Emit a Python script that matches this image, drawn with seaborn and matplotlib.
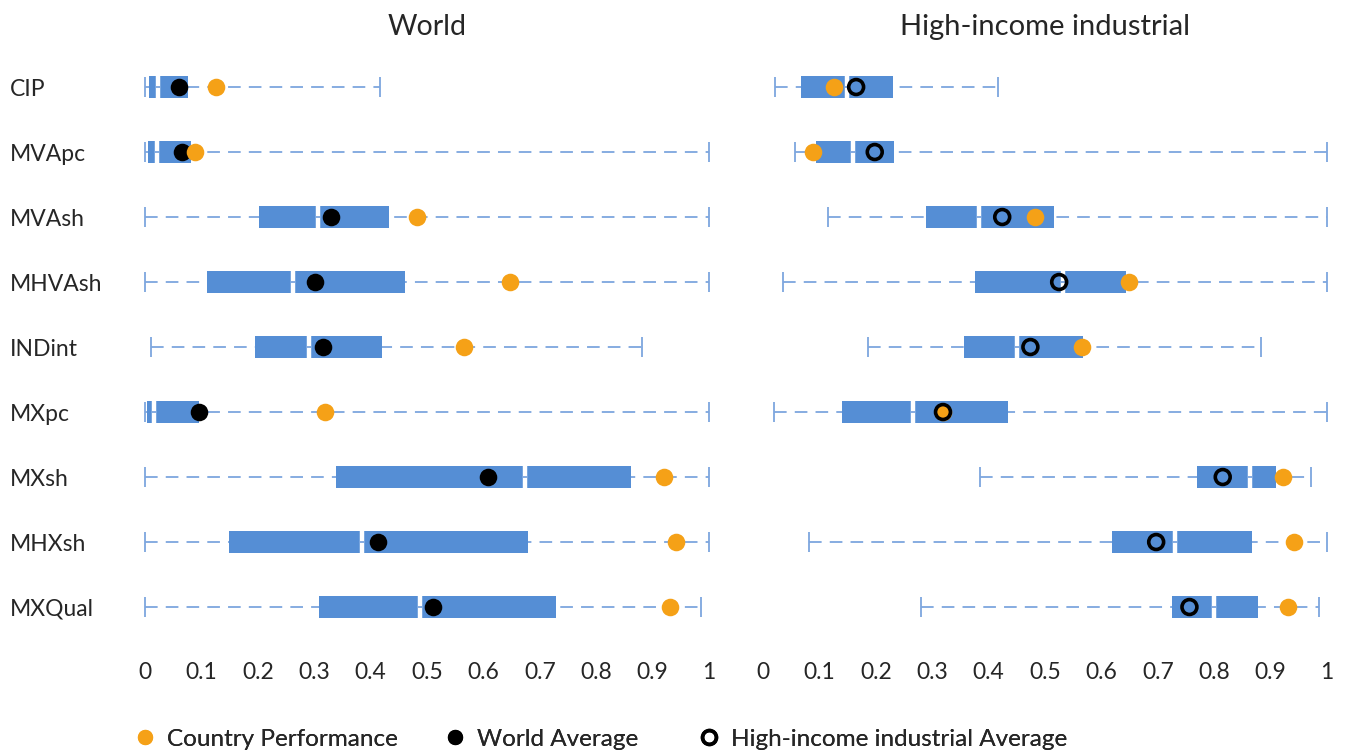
import numpy as np
import matplotlib
matplotlib.use("Agg")
import matplotlib.pyplot as plt
from matplotlib.lines import Line2D
import seaborn as sns

categories = ["CIP", "MVApc", "MVAsh", "MHVAsh", "INDint", "MXpc", "MXsh", "MHXsh", "MXQual"]

# country performance (same in both panels)
country = [0.126, 0.088, 0.482, 0.648, 0.565, 0.319, 0.921, 0.942, 0.931]

# World distribution
w_min = [0.0, 0.0, 0.0, 0.0, 0.011, 0.0, 0.0, 0.0, 0.0]
w_q1 = [0.007, 0.005, 0.202, 0.110, 0.195, 0.003, 0.339, 0.149, 0.309]
w_med = [0.023, 0.021, 0.307, 0.262, 0.290, 0.016, 0.673, 0.384, 0.488]
w_q3 = [0.076, 0.082, 0.432, 0.461, 0.421, 0.096, 0.862, 0.680, 0.729]
w_max = [0.417, 1.0, 1.0, 1.0, 0.881, 1.0, 1.0, 1.0, 0.985]
world_avg = [0.061, 0.065, 0.329, 0.301, 0.315, 0.095, 0.608, 0.413, 0.511]

# High-income industrial distribution
h_min = [0.022, 0.056, 0.116, 0.036, 0.186, 0.020, 0.384, 0.081, 0.280]
h_q1 = [0.067, 0.094, 0.289, 0.375, 0.357, 0.140, 0.769, 0.619, 0.725]
h_med = [0.148, 0.159, 0.383, 0.532, 0.450, 0.266, 0.864, 0.730, 0.799]
h_q3 = [0.231, 0.233, 0.515, 0.643, 0.567, 0.434, 0.909, 0.867, 0.877]
h_max = [0.416, 1.0, 1.0, 1.0, 0.882, 1.0, 0.972, 1.0, 0.986]
hi_avg = [0.165, 0.198, 0.424, 0.525, 0.474, 0.319, 0.815, 0.697, 0.756]

xticks = [0, 0.1, 0.2, 0.3, 0.4, 0.5, 0.6, 0.7, 0.8, 0.9, 1]
xticklabels = ["0", "0.1", "0.2", "0.3", "0.4", "0.5", "0.6", "0.7", "0.8", "0.9", "1"]

BOX = "#558ED5"
WHISK = "#7DA6DE"
ORANGE = "#F5A117"

sns.set_theme(style="white")
plt.rcParams["font.family"] = ["Lato", "DejaVu Sans"]


def draw_panel(ax, mins, q1, med, q3, maxs):
    y = np.arange(len(categories))
    ax.hlines(y, mins, maxs, color=WHISK, lw=1.3, linestyles=(0, (7, 4.5)), zorder=1)
    ax.vlines(mins, y - 0.15, y + 0.15, color=WHISK, lw=1.3, zorder=1)
    ax.vlines(maxs, y - 0.15, y + 0.15, color=WHISK, lw=1.3, zorder=1)
    ax.barh(y, np.array(q3) - np.array(q1), left=q1, height=0.34, color=BOX, lw=0, zorder=2)
    ax.vlines(med, y - 0.18, y + 0.18, color="white", lw=3.2, zorder=3)
    ax.hlines(y, np.array(med) - 0.004, np.array(med) + 0.004, color=WHISK, lw=1.3, zorder=4)
    ax.set_xlim(-0.03, 1.03)
    ax.set_ylim(len(categories) - 0.5, -0.5)
    ax.set_xticks(xticks)
    ax.set_xticklabels(xticklabels, fontsize=16.5)
    ax.tick_params(axis="x", length=0, pad=16)
    sns.despine(ax=ax, left=True, bottom=True)


fig = plt.figure(figsize=(13.51, 7.53), dpi=100)
ax1 = fig.add_axes([0.0948, 0.1507, 0.4425, 0.7769])
ax2 = fig.add_axes([0.5523, 0.1507, 0.4425, 0.7769])
ypos = np.arange(len(categories))

draw_panel(ax1, w_min, w_q1, w_med, w_q3, w_max)
sns.scatterplot(x=world_avg, y=ypos, ax=ax1, color="black", s=160, linewidth=0, zorder=5)
sns.scatterplot(x=country, y=ypos, ax=ax1, color=ORANGE, s=160, linewidth=0, zorder=6)
ax1.set_yticks(ypos)
ax1.set_yticklabels(categories, fontsize=16.5)
ax1.tick_params(axis="y", length=0, pad=85)
for t in ax1.get_yticklabels():
    t.set_horizontalalignment("left")
ax1.set_title("World", fontsize=20.5, pad=14)

draw_panel(ax2, h_min, h_q1, h_med, h_q3, h_max)
sns.scatterplot(x=country, y=ypos, ax=ax2, color=ORANGE, s=160, linewidth=0, zorder=5)
ax2.scatter(hi_avg, ypos, s=115, facecolors="none", edgecolors="black", linewidths=2.6, zorder=6)
ax2.set_yticks([])
ax2.set_title("High-income industrial", fontsize=21, pad=14)

handles = [
    Line2D([], [], marker="o", ls="", color=ORANGE, markersize=11, markeredgewidth=0),
    Line2D([], [], marker="o", ls="", color="black", markersize=11, markeredgewidth=0),
    Line2D([], [], marker="o", ls="", markerfacecolor="none", markeredgecolor="black",
           markersize=10, markeredgewidth=2.6),
]
labels = ["Country Performance", "World Average", "High-income industrial Average"]
legend_x = [0.0985, 0.328, 0.516]
for h, lab, lx in zip(handles, labels, legend_x):
    leg = fig.legend([h], [lab], loc="center left", bbox_to_anchor=(lx, 0.018),
                     frameon=False, fontsize=17.5, handlelength=1.0, handletextpad=0.4,
                     borderpad=0, borderaxespad=0)
    fig.add_artist(leg)

fig.savefig("out.png", dpi=100)
